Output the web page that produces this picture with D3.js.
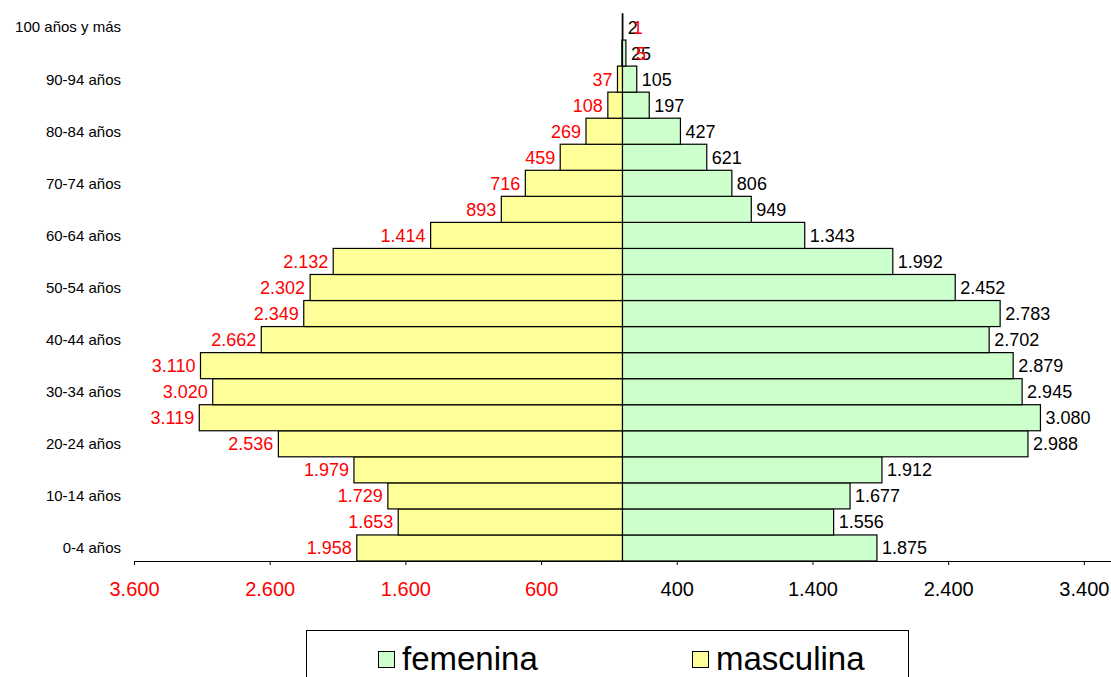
<!DOCTYPE html>
<html>
<head>
<meta charset="utf-8">
<script src="https://cdn.jsdelivr.net/npm/d3@7"></script>
<style>
  html, body { margin: 0; padding: 0; background: #fff; }
  svg { display: block; font-family: Arial, "Liberation Sans", sans-serif; }
</style>
</head>
<body>
<svg id="chart" width="1111" height="677"></svg>
<script>
// Age groups, youngest first
const categories = [
  "0-4 años", "5-9 años", "10-14 años", "15-19 años", "20-24 años",
  "25-29 años", "30-34 años", "35-39 años", "40-44 años", "45-49 años",
  "50-54 años", "55-59 años", "60-64 años", "65-69 años", "70-74 años",
  "75-79 años", "80-84 años", "85-89 años", "90-94 años", "95-99 años",
  "100 años y más"
];
const masculina = [1958, 1653, 1729, 1979, 2536, 3119, 3020, 3110, 2662, 2349,
                   2302, 2132, 1414, 893, 716, 459, 269, 108, 37, 5, 1];
const femenina  = [1875, 1556, 1677, 1912, 2988, 3080, 2945, 2879, 2702, 2783,
                   2452, 1992, 1343, 949, 806, 621, 427, 197, 105, 25, 2];
// Age groups that carry a label on the vertical axis
const labelledGroups = ["0-4 años", "10-14 años", "20-24 años", "30-34 años",
  "40-44 años", "50-54 años", "60-64 años", "70-74 años", "80-84 años",
  "90-94 años", "100 años y más"];
const axisTicks = [-3600, -2600, -1600, -600, 400, 1400, 2400, 3400];
const seriesNames = ["femenina", "masculina"];

const locale = d3.formatLocale({ decimal: ",", thousands: ".", grouping: [3], currency: ["", ""] });
const fmt = locale.format(",d");

const colors = { femenina: "#CCFFCC", masculina: "#FFFF99" };

const svg = d3.select("#chart");

const x = d3.scaleLinear().domain([-3600, 3600]).range([134, 1111]);
const y = d3.scaleBand().domain(categories).range([561, 14]).paddingInner(0).paddingOuter(0);

const rows = categories.map((c, i) => ({ cat: c, m: masculina[i], f: femenina[i] }));

// Bars: men to the left, women to the right
const bars = svg.append("g");
bars.selectAll("rect.m").data(rows).join("rect")
  .attr("class", "m")
  .attr("x", d => x(-d.m))
  .attr("y", d => y(d.cat))
  .attr("width", d => x(0) - x(-d.m))
  .attr("height", y.bandwidth())
  .attr("fill", colors.masculina)
  .attr("stroke", "#000").attr("stroke-width", 1.2);
bars.selectAll("rect.f").data(rows).join("rect")
  .attr("class", "f")
  .attr("x", x(0))
  .attr("y", d => y(d.cat))
  .attr("width", d => x(d.f) - x(0))
  .attr("height", y.bandwidth())
  .attr("fill", colors.femenina)
  .attr("stroke", "#000").attr("stroke-width", 1.2);

// Value labels
const labels = svg.append("g").attr("font-size", 18);
labels.selectAll("text.f").data(rows).join("text")
  .attr("class", "f")
  .attr("x", d => x(d.f) + 5)
  .attr("y", d => y(d.cat) + y.bandwidth() / 2)
  .attr("dy", "0.36em")
  .attr("fill", "#000")
  .text(d => fmt(d.f));
labels.selectAll("text.m").data(rows).join("text")
  .attr("class", "m")
  .attr("x", d => d.m < 10 ? x(d.f) + 10 : x(-d.m) - 5)
  .attr("text-anchor", d => d.m < 10 ? "start" : "end")
  .attr("y", d => y(d.cat) + y.bandwidth() / 2)
  .attr("dy", "0.36em")
  .attr("fill", "#FF0000")
  .text(d => fmt(d.m));

// Category labels
svg.append("g").selectAll("text").data(labelledGroups).join("text")
  .attr("x", 121)
  .attr("y", d => y(d) + y.bandwidth() / 2)
  .attr("dy", "0.36em")
  .attr("text-anchor", "end")
  .attr("font-size", 15)
  .attr("fill", "#000")
  .text(d => d);

// Horizontal axis
const axis = svg.append("g")
  .attr("transform", `translate(0,${y.range()[0]})`)
  .call(d3.axisBottom(x).tickValues(axisTicks).tickSize(4).tickSizeOuter(0)
    .tickFormat(d => fmt(Math.abs(d))));
axis.select(".domain").attr("stroke", "#000").attr("d", `M${x(-3600)},0.5H${x(3600)}`);
axis.selectAll(".tick line").attr("stroke", "#000");
axis.selectAll(".tick text")
  .attr("font-size", 20)
  .attr("font-family", "Arial, 'Liberation Sans', sans-serif")
  .attr("y", 35).attr("dy", 0)
  .attr("fill", d => d < 0 ? "#FF0000" : "#000");

// Legend
const legend = svg.append("g");
legend.append("rect")
  .attr("x", 306.5).attr("y", 630.5).attr("width", 602).attr("height", 60)
  .attr("fill", "#fff").attr("stroke", "#000");
const legendX = [378, 692];
seriesNames.forEach((name, i) => {
  legend.append("rect")
    .attr("x", legendX[i] + 0.5).attr("y", 651.5).attr("width", 16).attr("height", 16)
    .attr("fill", colors[name]).attr("stroke", "#000");
  legend.append("text")
    .attr("x", legendX[i] + 24).attr("y", 670)
    .attr("font-size", 33)
    .attr("fill", "#000")
    .text(name);
});
</script>
</body>
</html>
